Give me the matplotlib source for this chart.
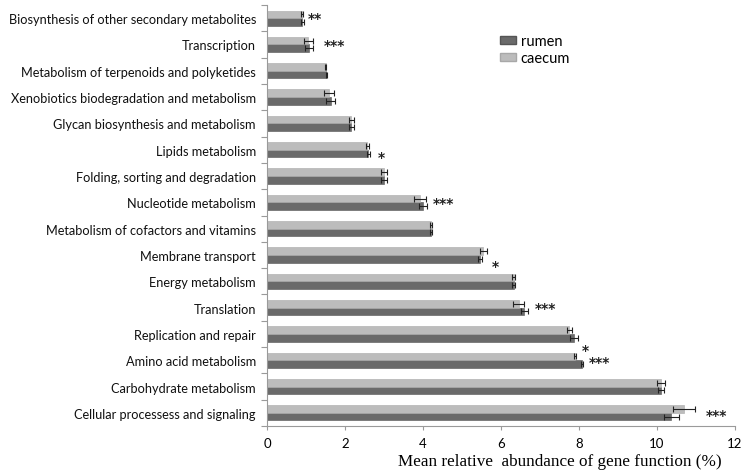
import numpy as np
import matplotlib
matplotlib.use("Agg")
import matplotlib.pyplot as plt
from matplotlib.patches import Patch

# categorias de arriba hacia abajo (como en la figura)
categorias = [
    "Biosynthesis of other secondary metabolites",
    "Transcription",
    "Metabolism of terpenoids and polyketides",
    "Xenobiotics biodegradation and metabolism",
    "Glycan biosynthesis and metabolism",
    "Lipids metabolism",
    "Folding, sorting and degradation",
    "Nucleotide metabolism",
    "Metabolism of cofactors and vitamins",
    "Membrane transport",
    "Energy metabolism",
    "Translation",
    "Replication and repair",
    "Amino acid metabolism",
    "Carbohydrate metabolism",
    "Cellular processess and signaling",
]
rumen = [0.91, 1.08, 1.52, 1.63, 2.16, 2.6, 3.0, 4.0, 4.2, 5.45, 6.33, 6.6, 7.87, 8.07, 10.1, 10.37]
rumen_err = [0.03, 0.1, 0.02, 0.12, 0.06, 0.04, 0.07, 0.1, 0.02, 0.05, 0.04, 0.1, 0.1, 0.02, 0.08, 0.19]
caecum = [0.89, 1.06, 1.5, 1.6, 2.16, 2.57, 3.0, 3.92, 4.2, 5.55, 6.33, 6.45, 7.75, 7.9, 10.1, 10.7]
caecum_err = [0.03, 0.12, 0.02, 0.13, 0.06, 0.04, 0.07, 0.15, 0.02, 0.08, 0.04, 0.15, 0.07, 0.02, 0.1, 0.28]

# marcas de significancia: (texto, x, y)
estrellas = [
    ("**", 1.23, 15.13),
    ("***", 1.74, 14.1),
    ("*", 2.94, 9.84),
    ("***", 4.53, 8.09),
    ("*", 5.86, 5.70),
    ("***", 7.14, 4.1),
    ("*", 8.15, 2.52),
    ("***", 8.52, 2.05),
    ("***", 11.53, 0.03),
]

col_rumen = "#6a6a6a"
col_caecum = "#bcbcbc"

n = len(categorias)
y = np.arange(n)[::-1]
h = 0.29

fig = plt.figure(figsize=(7.43, 4.77), dpi=100)
ax = fig.add_axes([267 / 743, 1 - 427 / 477, 468 / 743, 421 / 477])

ax.barh(y - h / 2, rumen, height=h, color=col_rumen, edgecolor="#555555", linewidth=0.4)
ax.barh(y + h / 2, caecum, height=h, color=col_caecum, edgecolor="#a8a8a8", linewidth=0.4)
ax.errorbar(rumen, y - h / 2, xerr=rumen_err, fmt="none", ecolor="#222222",
            elinewidth=0.8, capsize=2.5, capthick=0.8)
ax.errorbar(caecum, y + h / 2, xerr=caecum_err, fmt="none", ecolor="#222222",
            elinewidth=0.8, capsize=2.5, capthick=0.8)

for txt, xs, ys in estrellas:
    ax.text(xs, ys - 0.12, txt, ha="center", va="center", fontsize=10,
            fontweight="bold", color="#222222")

ax.set_xlim(0, 12)
ax.set_ylim(-0.5, n - 0.5)
ax.set_xticks(range(0, 13, 2))
ax.set_yticks(y)
ax.set_yticklabels(categorias, fontsize=9.2, family="Lato", color="#111111")
ax.set_yticks(np.arange(-0.5, n, 1), minor=True)
ax.tick_params(axis="y", which="major", length=0, pad=8)
ax.tick_params(axis="y", which="minor", length=4, color="#9a9a9a", width=0.8)
ax.tick_params(axis="x", length=3, color="#9a9a9a", width=0.8, labelsize=9.5, pad=5)
for lab in ax.get_xticklabels():
    lab.set_family("Lato")

for side in ["top", "right"]:
    ax.spines[side].set_visible(False)
for side in ["left", "bottom"]:
    ax.spines[side].set_color("#9a9a9a")
    ax.spines[side].set_linewidth(0.8)

ax.set_xlabel("Mean relative  abundance of gene function (%)", family="Liberation Serif",
              fontsize=12.3)
ax.xaxis.set_label_coords(0.626, -0.063)

handles = [Patch(facecolor=col_rumen, edgecolor="#555555", label="rumen"),
           Patch(facecolor=col_caecum, edgecolor="#a8a8a8", label="caecum")]
ax.legend(handles=handles, loc="upper left", bbox_to_anchor=(0.47, 0.962), frameon=False,
          prop={"family": "Lato", "size": 10.5}, handlelength=1.1, handleheight=0.4,
          handletextpad=0.3, labelspacing=0.2)

fig.savefig("out.png", dpi=100)
